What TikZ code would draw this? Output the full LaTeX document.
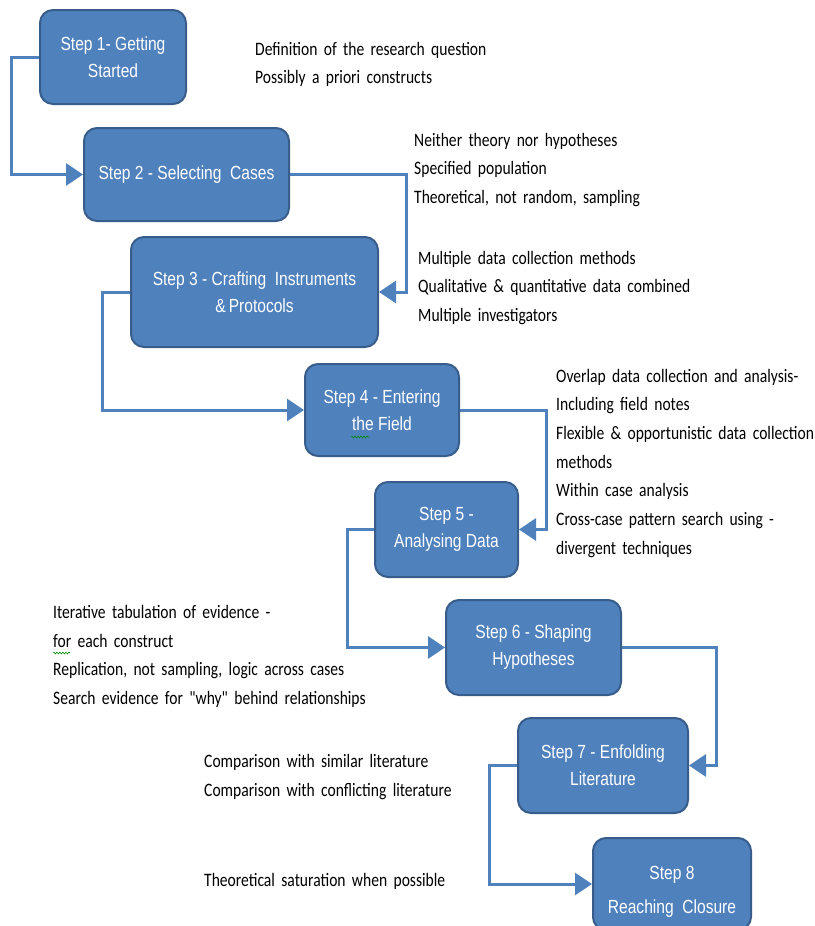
\documentclass[tikz,border=0pt]{standalone}
\usepackage{fontspec}
\usetikzlibrary{arrows.meta,decorations.pathmorphing}
\newfontfamily\boxfont[FakeStretch=0.82]{Liberation Sans}
\newfontfamily\notefont[FakeStretch=0.82,WordSpace={1.8}]{Carlito}
\definecolor{boxblue}{HTML}{4F81BD}
\definecolor{boxedge}{HTML}{385D8A}
\definecolor{connblue}{HTML}{4F81BD}
\tikzset{
  stepbox/.style={draw=boxedge, fill=boxblue, line width=2pt, rounded corners=13pt,
    text=white, align=center, font=\boxfont\fontsize{19}{27}\selectfont, inner sep=0pt},
  steptext/.style={text=white, align=center, font=\boxfont\fontsize{19}{27}\selectfont, inner sep=0pt},
  conn/.style={draw=connblue, line width=3pt,
    -{Triangle[length=17pt,width=22pt]}},
  note/.style={anchor=north west, align=left, inner sep=0pt,
    font=\notefont\fontsize{19}{28.6}\selectfont, text=black},
  squig/.style={draw=green!55!black, line width=0.6pt,
    decorate, decoration={snake, amplitude=0.9pt, segment length=3pt}}
}
\begin{document}
\begin{tikzpicture}[x=1pt,y=-1pt]
\useasboundingbox (0,0) rectangle (814,926);
\fill[white] (0,0) rectangle (814,926);
% step boxes
\node[stepbox, minimum width=146pt, minimum height=94pt] (s1) at (113,57) {Step 1- Getting\\Started};
\node[stepbox, minimum width=205pt, minimum height=93pt] (s2) at (186.5,174.5) {Step 2 - Selecting\ \ Cases};
\node[stepbox, minimum width=247pt, minimum height=110pt] (s3) at (254.5,292) {Step 3 - Crafting\ \ Instruments\\\&\,Protocols};
\node[stepbox, minimum width=154pt, minimum height=92pt] (s4) at (382,410) {Step 4 - Entering\\the Field};
\node[stepbox, minimum width=143pt, minimum height=95pt] (s5) at (446.5,529.5) {Step 5 -\\Analysing Data};
\node[stepbox, minimum width=175pt, minimum height=95pt] (s6) at (533.5,647.5) {Step 6 - Shaping\\Hypotheses};
\node[stepbox, minimum width=170pt, minimum height=95pt] (s7) at (603,765.5) {Step 7 - Enfolding\\Literature};
\node[stepbox, minimum width=158pt, minimum height=92pt] (s8) at (672,884) {};
\node[steptext] (t8) at ([yshift=-8pt]s8.center) {Step 8\\[7pt]Reaching\ \ Closure};
% connectors
\draw[conn] (s1.west) -- ++(-28,0) |- (s2.west);
\draw[conn] (s2.east) -- ++(116,0) |- (s3.east);
\draw[conn] (s3.west) -- ++(-28,0) |- (s4.west);
\draw[conn] (s4.east) -- ++(86,0) |- (s5.east);
\draw[conn] (s5.west) -- ++(-27,0) |- (s6.west);
\draw[conn] (s6.east) -- ++(94,0) |- (s7.east);
\draw[conn] (s7.west) -- ++(-28,0) |- (s8.west);
% notes
\node[note] (n1) at (255,42) {Definition of the research question\\Possibly a priori constructs};
\node[note] (n2) at (414,133) {Neither theory nor hypotheses\\Specified population\\Theoretical, not random, sampling};
\node[note] (n3) at (418,251) {Multiple data collection methods\\Qualitative \& quantitative data combined\\Multiple investigators};
\node[note] (n4) at (556,369) {Overlap data collection and analysis-\\Including field notes\\Flexible \& opportunistic data collection\\methods\\Within case analysis\\Cross-case pattern search using -\\divergent techniques};
\node[note] (n5) at (53,605) {Iterative tabulation of evidence -\\for each construct\\Replication, not sampling, logic across cases\\Search evidence for "why" behind relationships};
\node[note] (n6) at (204,754) {Comparison with similar literature\\Comparison with conflicting literature};
\node[note] (n7) at (204,873) {Theoretical saturation when possible};
% spell-check squiggles
\draw[squig] (351,437) -- (369,437);
\draw[squig] (53,653) -- (70,653);
\end{tikzpicture}
\end{document}
